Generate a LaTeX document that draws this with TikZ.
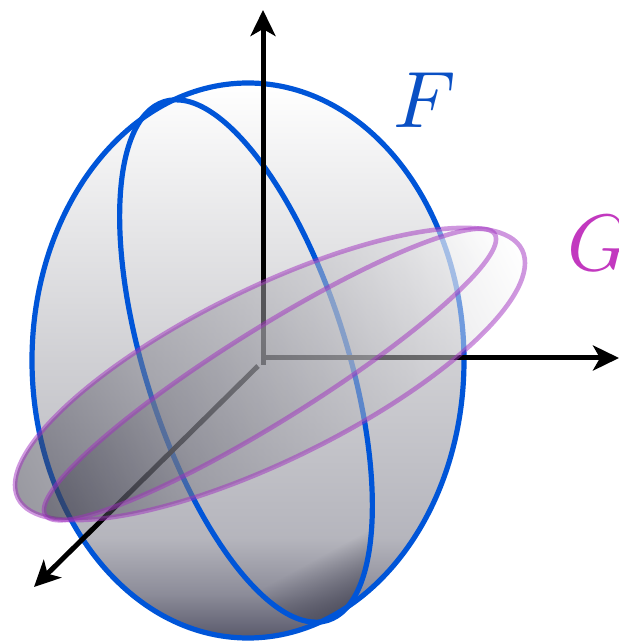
\documentclass[tikz,border=0pt]{standalone}
\usetikzlibrary{arrows.meta,fadings}
\definecolor{fblue}{HTML}{0055D8}
\definecolor{ftext}{HTML}{0A50C4}
\definecolor{gtext}{HTML}{C238BF}
\definecolor{gline}{HTML}{A030C0}
\definecolor{fdark}{HTML}{50505F}
\pgfdeclareverticalshading{fsh}{100bp}{
 rgb(0bp)=(.35,.35,.42);
 rgb(25bp)=(.35,.35,.42);
 rgb(29bp)=(.55,.55,.6);
 rgb(34bp)=(.71,.71,.74);
 rgb(50bp)=(.815,.815,.83);
 rgb(65bp)=(.925,.925,.93);
 rgb(75bp)=(1,1,1);
 rgb(100bp)=(1,1,1)}
\pgfdeclarehorizontalshading{gsh}{100bp}{
 rgb(0bp)=(.2,.2,.26);
 rgb(25bp)=(.2,.2,.26);
 rgb(40bp)=(.5,.5,.54);
 rgb(58bp)=(.75,.75,.77);
 rgb(75bp)=(1,1,1);
 rgb(100bp)=(1,1,1)}
\tikzset{
 fline/.style={draw=fblue,line width=5.2pt},
 gline/.style={draw=gline,draw opacity=.5,line width=4.6pt},
 axisline/.style={draw=black,line width=5pt,-{Stealth[length=26pt,width=25pt,inset=7pt]}},
 lab/.style={inner sep=0pt,scale=8}
}
\begin{document}
\begin{tikzpicture}[x=1pt,y=1pt]
\useasboundingbox (0,0) rectangle (619,641);
% F body
\shade[shading=fsh] (248,280.5) ellipse [x radius=216,y radius=277.5];
\begin{scope}[transform canvas={shift={(246pt,280pt)},rotate=28.7}]
 \begin{scope}
 \clip[rotate=-11.2] (0,0) ellipse [x radius=101,y radius=272];
 \fill[fdark,path fading=north] (-120,-268) rectangle (120,-207);
 \end{scope}
\end{scope}
\begin{scope}[transform canvas={shift={(246pt,280pt)},rotate=17.5}]
 \draw[fline] (0,0) ellipse [x radius=101,y radius=272];
\end{scope}
\draw[fline] (248,280.5) ellipse [x radius=216,y radius=277.5];
% axes
\coordinate (oz) at (263,276);
\coordinate (ox) at (261,283);
\coordinate (od) at (258,275);
\coordinate (tz) at (263,631);
\coordinate (tx) at (619,283);
\coordinate (td) at (34,54);
\draw[axisline] (oz) -- (tz);
\draw[axisline] (ox) -- (tx);
\draw[axisline] (od) -- (td);
% G discs
\begin{scope}[transform canvas={shift={(270pt,267pt)},rotate=26.2}]
 \shade[shading=gsh,opacity=.5] (0,0) ellipse [x radius=281,y radius=86];
 \draw[gline] (0,0) ellipse [x radius=281,y radius=86];
\end{scope}
\begin{scope}[transform canvas={shift={(270pt,266.5pt)},rotate=32}]
 \shade[shading=gsh,opacity=.4] (0,0) ellipse [x radius=265,y radius=46];
 \draw[gline] (0,0) ellipse [x radius=265,y radius=46];
\end{scope}
\node[lab,text=ftext] (labf) at (425,541) {$F$};
\node[lab,text=gtext,anchor=west] (labg) at (566,398) {$G$};
\end{tikzpicture}
\end{document}
